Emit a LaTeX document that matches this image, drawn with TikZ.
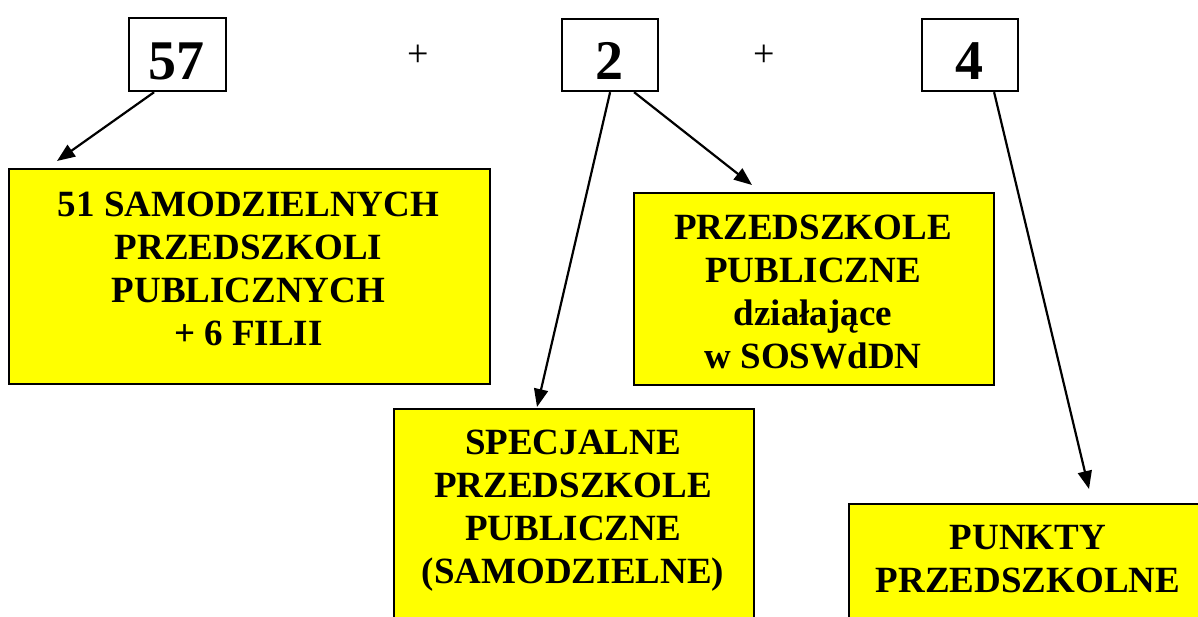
\documentclass[tikz,border=0pt]{standalone}
\usepackage{fontspec}
\setmainfont{Liberation Serif}
\usetikzlibrary{arrows.meta}
\definecolor{boxyellow}{RGB}{255,255,0}
\begin{document}
\begin{tikzpicture}[x=1pt,y=-1pt,
  numbox/.style={draw, line width=2.2pt, anchor=north west, inner sep=0, minimum height=72pt},
  numtxt/.style={font=\fontsize{56}{60}\selectfont\bfseries, anchor=base, inner sep=0},
  ybox/.style={draw, line width=2.2pt, fill=boxyellow, anchor=north west, inner sep=0},
  ytxt/.style={font=\fontsize{37}{43}\selectfont\bfseries, align=center, anchor=north, inner sep=0},
  plussign/.style={font=\fontsize{38}{40}\selectfont, inner sep=0},
  arr/.style={line width=2.2pt, -{Triangle[length=18pt,width=14pt]}}]
\useasboundingbox (0,0) rectangle (1198,617);
\clip (0,0) rectangle (1198,617);
% number boxes
\node[numbox, minimum width=97pt, minimum height=73pt] (n57) at (128,17) {};
\node[numbox, minimum width=96pt] (n2) at (561,18) {};
\node[numbox, minimum width=96pt] (n4) at (921,18) {};
\node[numtxt] (t57) at (176.5,80) {57};
\node[numtxt] (t2) at (609,80) {2};
\node[numtxt] (t4) at (969,80) {4};
% plus signs
\node[plussign] (p1) at (418,56) {+};
\node[plussign] (p2) at (764,56) {+};
% yellow boxes
\node[ybox, minimum width=481pt, minimum height=215pt] (b1) at (8,168) {};
\node[ybox, minimum width=360pt, minimum height=192pt] (b2) at (633,192) {};
\node[ybox, minimum width=360pt, minimum height=260pt] (b3) at (393,408) {};
\node[ybox, minimum width=360pt, minimum height=200pt] (b4) at (848,503) {};
\node[ytxt] (tb1) at (248.5,192) {51 SAMODZIELNYCH\\PRZEDSZKOLI\\PUBLICZNYCH\\+ 6 FILII};
\node[ytxt] (tb2) at (813,215) {PRZEDSZKOLE\\PUBLICZNE\\działające\\w SOSWdDN};
\node[ytxt] (tb3) at (573,430) {SPECJALNE\\PRZEDSZKOLE\\PUBLICZNE\\(SAMODZIELNE)};
\node[ytxt] (tb4) at (1028,525) {PUNKTY\\PRZEDSZKOLNE};
% arrow ends
\coordinate (e1) at (57,161);
\coordinate (e2) at (537,407);
\coordinate (e3) at (752,185);
\coordinate (e4) at (1089,489);
\draw[arr] ([xshift=-23.5pt]n57.south) -- (e1);
\draw[arr] (n2.south) -- (e2);
\draw[arr] ([xshift=24pt]n2.south) -- (e3);
\draw[arr] ([xshift=24pt]n4.south) -- (e4);
\end{tikzpicture}
\end{document}
